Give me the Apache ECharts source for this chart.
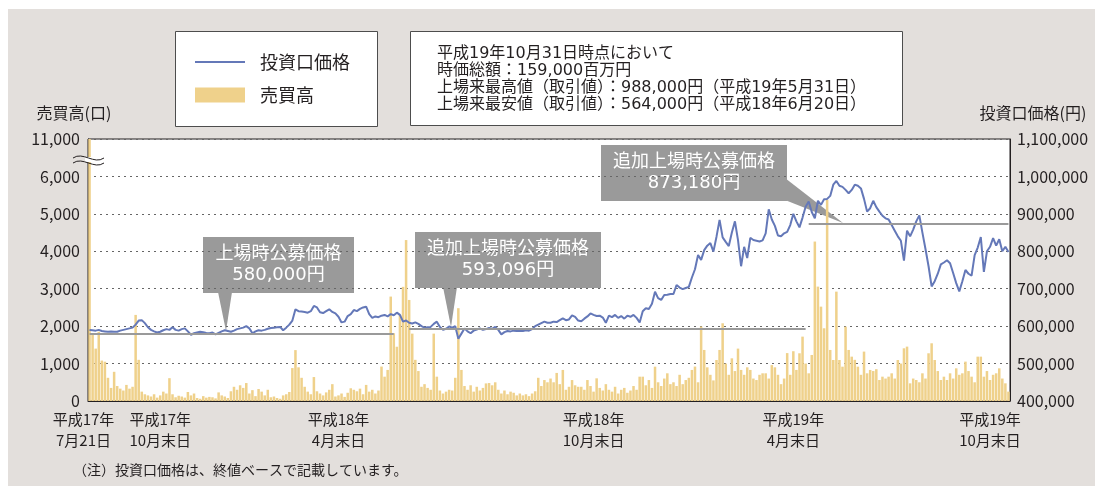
<!DOCTYPE html>
<html>
<head>
<meta charset="utf-8">
<script src="https://cdn.jsdelivr.net/npm/echarts@6.0.0/dist/echarts.min.js"></script>
<style>
  html, body { margin: 0; padding: 0; background: #fff; }
  #main { width: 1095px; height: 486px; }
</style>
</head>
<body>
<div id="main"></div>
<script>
// 投資口価格 (千円), one value per trading-day slot, 平成17年7月21日 .. 平成19年10月末日
const priceThousandYen = [
  590, 589, 588, 590, 587, 586, 585, 586, 585, 585,
  588, 590, 592, 594, 596, 604, 615, 616, 608, 597,
  590, 586, 583, 585, 589, 592, 590, 597, 590, 588,
  592, 594, 586, 577, 581, 583, 585, 584, 582, 581,
  583, 578, 582, 586, 589, 587, 585, 588, 592, 594,
  596, 600, 594, 581, 586, 589, 588, 590, 593, 595,
  596, 597, 598, 589, 596, 604, 615, 645, 640, 639,
  638, 636, 640, 654, 650, 637, 635, 640, 645, 638,
  634, 625, 610, 612, 627, 632, 643, 640, 646, 650,
  652, 632, 622, 626, 624, 628, 630, 626, 632, 629,
  636, 630, 612, 615, 609, 607, 610, 606, 600, 596,
  597, 598, 606, 612, 598, 590, 593, 599, 596, 600,
  566, 580, 594, 586, 581, 588, 591, 594, 590, 592,
  595, 593, 598, 590, 578, 584, 587, 586, 588, 587,
  588, 587, 589, 588, 592, 600, 604, 608, 612, 609,
  609, 612, 611, 616, 621, 616, 618, 629, 625, 615,
  613, 620, 626, 634, 630, 627, 628, 623, 609, 628,
  624, 630, 622, 627, 620, 628, 625, 630, 622, 610,
  640, 648, 646, 660, 692, 675, 670, 683, 684, 686,
  686, 710, 703, 699, 702, 705, 730, 752, 790, 777,
  803, 815, 822, 799, 839, 884, 837, 825, 814, 850,
  880, 830, 760, 812, 782, 836, 830, 828, 826, 829,
  848, 912, 885, 868, 842, 840, 848, 852, 870, 900,
  880, 864, 890, 919, 933, 905, 888, 935, 924, 939,
  940, 948, 978, 988, 975, 972, 964, 955, 964, 978,
  975, 968, 940, 906, 915, 935, 918, 906, 895, 888,
  885, 870, 855, 840, 828, 775, 855, 840, 858, 880,
  896, 850, 806, 760, 706, 720, 740, 765, 770, 776,
  768, 742, 715, 693, 720, 750, 740, 735, 790, 810,
  838, 745, 800, 812, 835, 815, 832, 800, 812, 798
];

// 売買高 (口)
const volume = [
  11000, 1800, 1400, 1850, 1080, 1050, 620, 350, 780, 400,
  330, 280, 430, 330, 380, 2300, 1100, 250, 180, 150,
  120, 180, 90, 150, 250, 200, 610, 180, 100, 140,
  120, 90, 240, 150, 200, 80, 60, 130, 90, 110,
  100, 70, 230, 150, 120, 80, 260, 380, 300, 420,
  350, 480, 200, 290, 130, 320, 250, 150, 300, 100,
  120, 80, 60, 150, 180, 240, 880, 1360, 900, 620,
  380, 250, 180, 640, 260, 200, 150, 230, 300, 450,
  120, 150, 200, 110, 220, 340, 300, 260, 330, 180,
  430, 250, 300, 200, 280, 920, 650, 830, 2790, 1810,
  1450, 2300, 3050, 4300, 2700, 1800, 1100, 800, 380, 450,
  350, 300, 1800, 650, 280, 200, 250, 300, 280, 620,
  2480, 830, 400, 300, 420, 250, 380, 280, 350, 470,
  480, 420, 500, 300, 200, 280, 180, 250, 220, 150,
  200, 150, 180, 130, 200, 260, 620, 400, 560, 500,
  600, 500, 750, 450, 830, 300, 380, 560, 420, 380,
  380, 300, 560, 400, 250, 606, 350, 280, 450, 300,
  250, 380, 200, 300, 350, 220, 280, 400, 300, 650,
  650, 420, 560, 350, 917, 500, 400, 600, 740, 450,
  500, 400, 700, 450, 560, 620, 830, 920, 500, 1990,
  1364, 900, 700, 550, 1096, 1364, 2077, 1000, 700, 1140,
  800, 1400, 830, 700, 900, 830, 600, 560, 700, 740,
  740, 600, 960, 900, 700, 450, 600, 1280, 700, 1330,
  830, 1275, 1720, 1000, 740, 1230, 4260, 3056, 2521, 1943,
  5374, 1364, 1096, 2922, 1096, 917, 1987, 1364, 1185, 1100,
  917, 700, 1320, 740, 830, 800, 850, 561, 650, 600,
  650, 740, 600, 1096, 1000, 1408, 1453, 472, 600, 561,
  500, 740, 600, 1275, 1542, 1096, 800, 561, 650, 561,
  740, 600, 873, 700, 740, 1052, 800, 650, 500, 1185,
  1185, 650, 800, 561, 700, 740, 873, 600, 472, 250
];

const days = volume.map((_, i) => i);

const tickIndex = [0, 23, 81, 164, 229, 293];
const tickLabels = [
  '平成17年\n7月21日', '平成17年\n10月末日', '平成18年\n4月末日',
  '平成18年\n10月末日', '平成19年\n4月末日', '平成19年\n10月末日'
];

// 公募価格の水平線 (円) と対象区間
const offerPrices = [580000, 593096, 873180];
const offerFrom = [0, 104, 234];
const offerTo = [99, 233, 299];

const infoLines = [
  '平成19年10月31日時点において',
  '時価総額：159,000百万円',
  '上場来最高値（取引値）：988,000円（平成19年5月31日）',
  '上場来最安値（取引値）：564,000円（平成18年6月20日）'
];

const FONT = '"Noto Sans CJK JP", "Noto Sans", sans-serif';
const WIDE = '"DejaVu Sans", "Noto Sans CJK JP", sans-serif';
const TXT = '#231f20';

function comma(v) {
  return String(v).replace(/\B(?=(\d{3})+(?!\d))/g, ',');
}

function callout(x, y, w, h, lines, tip) {
  return {
    type: 'group',
    z: 100,
    silent: true,
    children: [
      { type: 'polygon', shape: { points: tip }, style: { fill: '#9a9a9a' } },
      { type: 'rect', shape: { x: x, y: y, width: w, height: h }, style: { fill: '#9a9a9a' } },
      {
        type: 'text',
        style: {
          text: lines, x: x + w / 2, y: y + h / 2, align: 'center', verticalAlign: 'middle',
          fontSize: 18, lineHeight: 21, fontFamily: WIDE, fill: '#fff'
        }
      }
    ]
  };
}

const chart = echarts.init(document.getElementById('main'));

chart.setOption({
  animation: false,
  backgroundColor: '#fff',
  textStyle: { fontFamily: FONT },
  grid: {
    left: 88, right: 85, top: 139, bottom: 85,
    show: true, backgroundColor: '#fff', borderColor: TXT, borderWidth: 1
  },
  legend: {
    data: [
      { name: '投資口価格', icon: 'path://M0,0L50,0L50,2L0,2Z' },
      { name: '売買高', icon: 'rect' }
    ],
    orient: 'vertical',
    left: 195, top: 53,
    itemWidth: 50, itemHeight: 15, itemGap: 15,
    padding: 0,
    selectedMode: false,
    textStyle: { fontSize: 18, lineHeight: 18, color: TXT, fontFamily: FONT, padding: [0, 0, 0, 10] }
  },
  xAxis: {
    type: 'category',
    data: days,
    boundaryGap: true,
    axisTick: { show: false },
    axisLine: { lineStyle: { color: TXT, width: 1 } },
    axisLabel: {
      interval: (i) => tickIndex.indexOf(i) >= 0,
      showMinLabel: true,
      hideOverlap: false,
      formatter: (v, i) => {
        const k = tickIndex.indexOf(i);
        if (k < 0) return '';
        if (k === 0) return tickLabels[0].split('\n').map(s => '{first|' + s + '}').join('\n');
        return tickLabels[k];
      },
      color: TXT, fontSize: 15, lineHeight: 21, margin: 8, fontFamily: FONT,
      rich: {
        first: { fontSize: 15, lineHeight: 21, color: TXT, fontFamily: FONT, padding: [0, 12, 0, 0] }
      }
    }
  },
  yAxis: [
    {
      type: 'value', min: 0, max: 7000, interval: 1000,
      name: '売買高(口)', nameLocation: 'end', nameGap: 18,
      nameTextStyle: { color: TXT, fontSize: 16, fontFamily: FONT, padding: [0, 28, 0, 0] },
      axisLine: { show: true, lineStyle: { color: TXT } },
      axisTick: { show: false },
      axisLabel: {
        formatter: v => v === 7000 ? '11,000' : comma(v),
        color: TXT, fontSize: 16, margin: 8, fontFamily: FONT
      },
      splitLine: { lineStyle: { type: [2, 4], color: '#666', width: 1 } }
    },
    {
      type: 'value', min: 400000, max: 1100000, interval: 100000, position: 'right',
      name: '投資口価格(円)', nameLocation: 'end', nameGap: 18,
      nameTextStyle: { color: TXT, fontSize: 16, fontFamily: FONT, padding: [0, 0, 0, 46] },
      axisLine: { show: true, lineStyle: { color: TXT } },
      axisTick: { show: false },
      axisLabel: { formatter: v => comma(v), color: TXT, fontSize: 16, margin: 7, fontFamily: FONT },
      splitLine: { show: false }
    }
  ],
  series: [
    {
      name: '売買高',
      type: 'bar',
      yAxisIndex: 0,
      data: volume,
      barCategoryGap: '18%',
      itemStyle: { color: '#efd18b' }
    },
    {
      name: '投資口価格',
      type: 'line',
      yAxisIndex: 1,
      data: priceThousandYen.map(v => v * 1000),
      symbol: 'none',
      lineStyle: { color: '#6478b8', width: 2 },
      itemStyle: { color: '#6478b8' },
      z: 4,
      markLine: {
        silent: true,
        symbol: ['none', 'none'],
        label: { show: false },
        lineStyle: { color: '#9a9a9a', width: 2, type: 'solid' },
        data: offerPrices.map((p, k) => [
          { coord: [offerFrom[k], p] },
          { coord: [offerTo[k], p] }
        ])
      }
    }
  ],
  graphic: [
    { type: 'rect', z: -10, silent: true, shape: { x: 8, y: 9, width: 1087, height: 477 }, style: { fill: '#e3dfdc' } },
    { type: 'rect', z: -5, silent: true, shape: { x: 175.5, y: 31.5, width: 202, height: 95 }, style: { fill: '#fff', stroke: '#4d4d4d', lineWidth: 1 } },
    { type: 'rect', z: -5, silent: true, shape: { x: 410.5, y: 31.5, width: 492, height: 94 }, style: { fill: '#fff', stroke: '#4d4d4d', lineWidth: 1 } },
    {
      type: 'text', z: 10, silent: true,
      style: { text: infoLines.join('\n'), x: 437, y: 45, verticalAlign: 'top', fontSize: 16, lineHeight: 17, fontFamily: WIDE, fill: TXT }
    },
    callout(203, 237, 151, 56, '上場時公募価格\n580,000円', [[218, 292], [232, 292], [226, 331]]),
    callout(415, 232, 186, 56, '追加上場時公募価格\n593,096円', [[443, 287], [457, 287], [451, 327]]),
    callout(601, 145, 186, 56, '追加上場時公募価格\n873,180円', [[785, 178], [785, 200], [843, 223]]),
    // axis break mark
    { type: 'rect', z: 50, silent: true, shape: { x: 85, y: 157, width: 6, height: 5 }, style: { fill: '#fff' } },
    {
      type: 'bezierCurve', z: 51, silent: true,
      shape: { x1: 73, y1: 158, x2: 104, y2: 158, cpx1: 83, cpy1: 151, cpx2: 94, cpy2: 165 },
      style: { stroke: TXT, lineWidth: 1, fill: null }
    },
    {
      type: 'bezierCurve', z: 51, silent: true,
      shape: { x1: 73, y1: 163, x2: 104, y2: 163, cpx1: 83, cpy1: 156, cpx2: 94, cpy2: 170 },
      style: { stroke: TXT, lineWidth: 1, fill: null }
    },
    {
      type: 'text', z: 10, silent: true,
      style: { text: '（注）投資口価格は、終値ベースで記載しています。', x: 73, y: 470, verticalAlign: 'middle', fontSize: 14, fontFamily: FONT, fill: TXT }
    }
  ]
});
</script>
</body>
</html>
